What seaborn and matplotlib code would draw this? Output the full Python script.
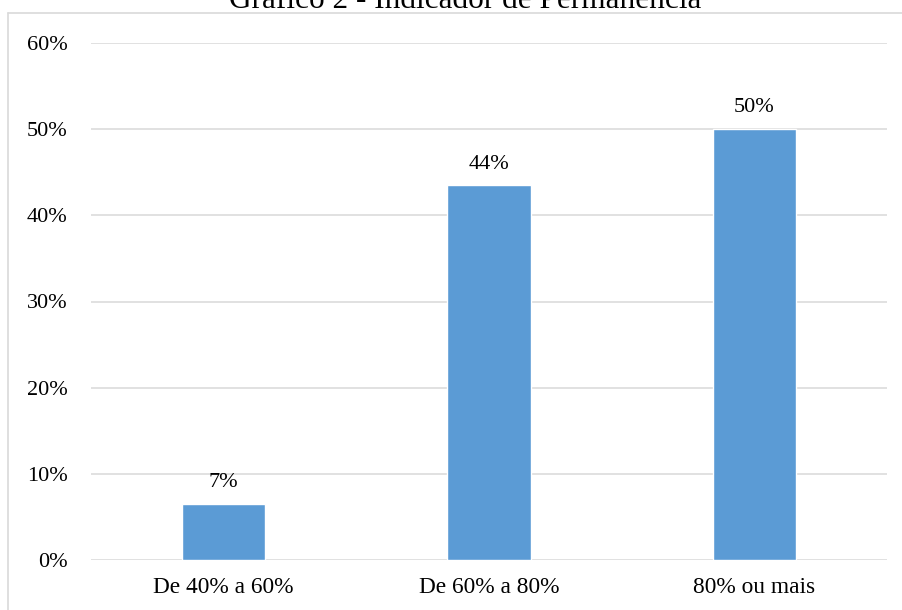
import matplotlib
matplotlib.use("Agg")
import matplotlib.pyplot as plt
from matplotlib.lines import Line2D
from matplotlib.ticker import FuncFormatter
import seaborn as sns
import pandas as pd
import math

categories = ["De 40% a 60%", "De 60% a 80%", "80% ou mais"]
values = [6.5, 43.5, 50.0]
yticks = [0, 10, 20, 30, 40, 50, 60]
title = "Gráfico 2 - Indicador de Permanência"

sns.set_theme(style="white")
plt.rcParams["font.family"] = ["Liberation Serif", "DejaVu Serif"]

W, H = 902, 610
fig = plt.figure(figsize=(W / 100, H / 100), dpi=100)
ax = fig.add_axes([91 / W, (H - 560) / H, (887 - 91) / W, (560 - 43) / H])

df = pd.DataFrame({"faixa": categories, "pct": values})
sns.barplot(data=df, x="faixa", y="pct", color="#5B9BD5", saturation=1,
            width=0.313, ax=ax, zorder=3)

ax.set_xlim(-0.5, 2.5)
ax.set_ylim(0, 60)
ax.set_yticks(yticks)
ax.yaxis.set_major_formatter(FuncFormatter(lambda v, _: f"{int(v)}%"))
ax.grid(axis="y", color="#D9D9D9", linewidth=1.1, zorder=0)
ax.grid(axis="x", visible=False)
for s in ax.spines.values():
    s.set_visible(False)
ax.tick_params(axis="y", length=0, pad=17, labelsize=16, labelcolor="black")
ax.tick_params(axis="x", length=0, pad=12.5, labelsize=16.8, labelcolor="black")
ax.set_xlabel("")
ax.set_ylabel("")

# value labels above each bar
for i, v in enumerate(values):
    ax.annotate(f"{math.floor(v + 0.5)}%", xy=(i, v), xytext=(0, 12),
                textcoords="offset points", ha="center", va="baseline",
                fontsize=16, color="black")

# chart frame (left and top edges)
fig.add_artist(Line2D([8 / W, 8 / W], [0, (H - 13) / H], color="#D9D9D9",
                      linewidth=1.2, transform=fig.transFigure))
fig.add_artist(Line2D([8 / W, 1], [(H - 13) / H, (H - 13) / H], color="#D9D9D9",
                      linewidth=1.2, transform=fig.transFigure))

fig.text(465 / W, (H - 8) / H, title, ha="center", va="baseline",
         fontsize=22.5, color="black")

fig.savefig("out.png", dpi=100)
